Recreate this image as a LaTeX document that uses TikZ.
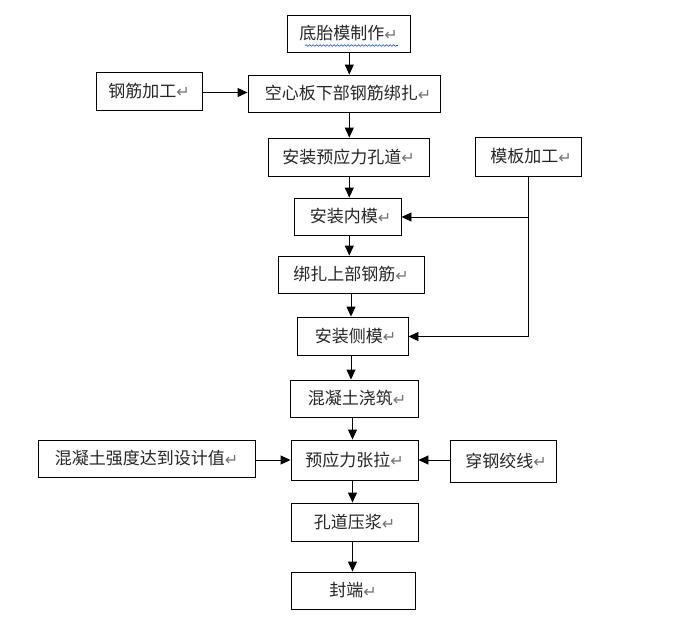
\documentclass[tikz,border=0pt]{standalone}
\usepackage{fontspec}
\usetikzlibrary{arrows.meta,decorations.pathmorphing}
\newfontfamily\cjk{Noto Sans CJK SC}
\newfontfamily\retfont{DejaVu Sans}
\newcommand{\ret}{{\retfont\fontsize{16}{16}\selectfont\color{black!55}\raisebox{-0.5pt}{↵}}}
\tikzset{
  box/.style={draw, line width=0.9pt, inner sep=0pt, text=black!85, font=\cjk\fontsize{17}{18}\selectfont},
  arr/.style={line width=0.9pt, -{Triangle[length=10pt,width=9pt]}},
  ln/.style={line width=0.9pt}
}
\begin{document}
\begin{tikzpicture}[x=1pt,y=-1pt]
\useasboundingbox (0,0) rectangle (681,619);
\node[box, minimum width=123pt, minimum height=37pt] (n1) at (348.5,33.5) {底胎模制作\ret};
\node[box, minimum width=106pt, minimum height=38pt] (n2) at (149,91) {钢筋加工\ret};
\node[box, minimum width=192pt, minimum height=37pt] (n3) at (344,93.5) {\hspace*{8pt}空心板下部钢筋绑扎\ret};
\node[box, minimum width=161pt, minimum height=38pt] (n4) at (348.5,157) {安装预应力孔道\ret};
\node[box, minimum width=106pt, minimum height=39pt] (n5) at (528,156.5) {\hspace*{6pt}模板加工\ret};
\node[box, minimum width=107pt, minimum height=37pt] (n6) at (347.5,216.5) {\hspace*{6pt}安装内模\ret};
\node[box, minimum width=146pt, minimum height=37pt] (n7) at (351,274.5) {绑扎上部钢筋\ret};
\node[box, minimum width=111pt, minimum height=38pt] (n8) at (352.5,336) {\hspace*{6pt}安装侧模\ret};
\node[box, minimum width=128pt, minimum height=37pt] (n9) at (354,398.5) {\hspace*{6pt}混凝土浇筑\ret};
\node[box, minimum width=217pt, minimum height=37pt] (n10) at (146.5,458.5) {混凝土强度达到设计值\ret};
\node[box, minimum width=127pt, minimum height=40pt] (n11) at (354.5,460) {预应力张拉\ret};
\node[box, minimum width=106pt, minimum height=42pt] (n12) at (503,461) {\hspace*{6pt}穿钢绞线\ret};
\node[box, minimum width=127pt, minimum height=38pt] (n13) at (354.5,522) {孔道压浆\ret};
\node[box, minimum width=124pt, minimum height=37pt] (n14) at (353,590.5) {封端\ret};
% wavy spell-check underline
\draw[blue!70!cyan, line width=0.6pt, decorate, decoration={snake, amplitude=0.8pt, segment length=3.5pt}] (305,45.5) -- (398,45.5);
% columns
\coordinate (c1) at (349.3,0);
\coordinate (c2) at (351,0);
\coordinate (c3) at (352.5,0);
\coordinate (cr) at (528,0);
\draw[arr] (n1.south -| c1) -- (n3.north -| c1);
\draw[arr] (n2.east |- 0,92.5) -- (n3.west |- 0,92.5);
\draw[arr] (n3.south -| c1) -- (n4.north -| c1);
\draw[arr] (n4.south -| c1) -- (n6.north -| c1);
\draw[arr] (n6.south -| c1) -- (n7.north -| c1);
\draw[arr] (n7.south -| c2) -- (n8.north -| c2);
\draw[arr] (n8.south -| c2) -- (n9.north -| c2);
\draw[arr] (n9.south -| c3) -- (n11.north -| c3);
\draw[arr] (n11.south -| c3) -- (n13.north -| c3);
\draw[arr] (n13.south -| c3) -- (n14.north -| c3);
\coordinate (j1) at (528,217);
\coordinate (j2) at (528,336.5);
\draw[ln] (n5.south -| cr) -- (j2);
\draw[arr] (j1) -- (n6.east |- j1);
\draw[arr] (j2) -- (n8.east |- j2);
\draw[arr] (n10.east |- 0,460) -- (n11.west |- 0,460);
\draw[arr] (n12.west |- 0,460) -- (n11.east |- 0,460);
\end{tikzpicture}
\end{document}
